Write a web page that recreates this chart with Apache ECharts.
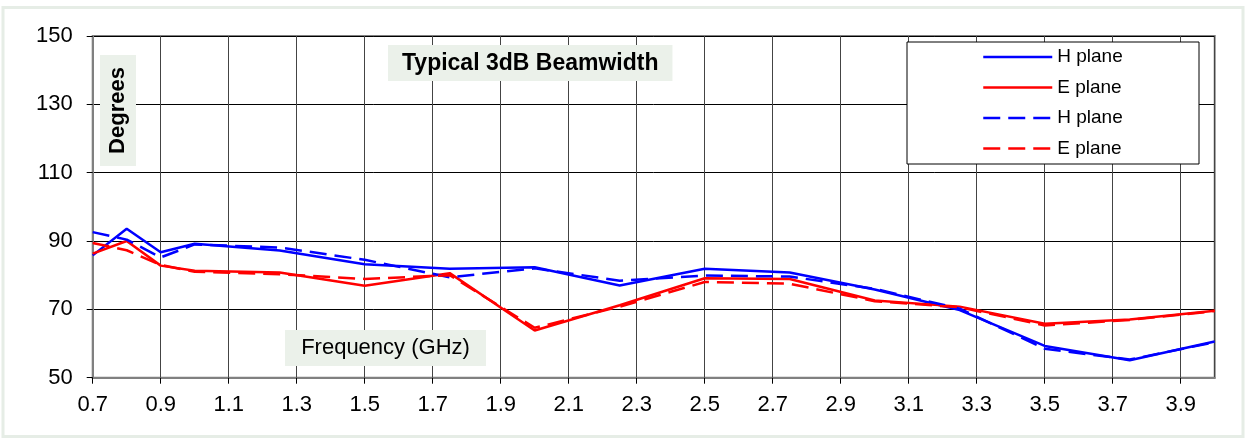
<!DOCTYPE html>
<html>
<head>
<meta charset="utf-8">
<title>Typical 3dB Beamwidth</title>
<script src="https://cdn.jsdelivr.net/npm/echarts@6/dist/echarts.min.js"></script>
<style>
  html, body { margin: 0; padding: 0; background: #fff; }
  #chart { width: 1248px; height: 441px; }
</style>
</head>
<body>
<div id="chart"></div>
<script>
// frequency points (GHz)
const freq = [0.7, 0.8, 0.9, 1.0, 1.25, 1.5, 1.75, 2.0, 2.25, 2.5, 2.75, 3.0, 3.25, 3.5, 3.75, 4.0];
// beamwidth in degrees
const hPlane = [85.8, 93.6, 86.7, 89.2, 87.2, 83.2, 81.9, 82.3, 77.0, 81.9, 80.8, 75.8, 69.8, 59.3, 55.1, 60.6];
const ePlane = [86.3, 90.0, 82.8, 81.3, 80.8, 76.9, 80.6, 63.8, 71.2, 79.1, 78.9, 72.6, 70.8, 65.8, 67.0, 69.6];
const hPlane2 = [92.6, 90.4, 85.2, 89.0, 88.1, 84.5, 79.4, 82.0, 78.4, 79.9, 79.6, 76.0, 70.2, 58.5, 55.3, 60.4];
const ePlane2 = [89.4, 87.3, 83.0, 81.0, 80.3, 78.9, 80.0, 64.6, 70.8, 78.0, 77.5, 72.4, 70.6, 65.3, 66.9, 69.5];

const font = 'Liberation Sans, Arial, sans-serif';

function pairs(ys) {
  return freq.map((x, i) => [x, ys[i]]);
}

function line(name, color, ys, dashed) {
  return {
    name: name,
    type: 'line',
    data: pairs(ys),
    symbol: 'none',
    color: color,
    lineStyle: { color: color, width: 2.5, type: dashed ? [17, 8] : 'solid' }
  };
}

const chart = echarts.init(document.getElementById('chart'));
chart.setOption({
  animation: false,
  title: {
    text: 'Typical 3dB Beamwidth',
    left: 388,
    top: 45,
    padding: [7, 14, 6, 14],
    backgroundColor: '#ebf1ea',
    textStyle: { fontFamily: font, fontSize: 23, fontWeight: 'bold', color: '#000' }
  },
  grid: {
    left: 92.7, top: 36, right: 33.3, bottom: 63.3,
    show: true, borderColor: '#808080', borderWidth: 2
  },
  legend: {
    orient: 'vertical',
    left: 982,
    top: 47,
    padding: 0,
    itemWidth: 69,
    itemHeight: 2,
    itemGap: 10.5,
    itemStyle: { opacity: 0 },
    lineStyle: { width: 2.5 },
    textStyle: { fontFamily: font, fontSize: 19, color: '#000', lineHeight: 20 },
    data: ['H plane', 'E plane', 'H plane ', 'E plane '],
    formatter: function (n) { return n.trim(); }
  },
  graphic: [
    { type: 'rect', shape: { x: 3, y: 7.5, width: 1240, height: 429 }, style: { fill: 'none', stroke: '#e6ede6', lineWidth: 3 }, z: 0 },
    { type: 'rect', shape: { x: 907, y: 42, width: 292, height: 122 }, style: { fill: '#fff', stroke: '#000', lineWidth: 1 }, z: 3 },
    { type: 'rect', shape: { x: 100, y: 55, width: 36, height: 111 }, style: { fill: '#ebf1ea' }, z: 3 },
    { type: 'text', x: 118, y: 110.5, rotation: Math.PI / 2, z: 4,
      style: { text: 'Degrees', font: 'bold 22px ' + font, fill: '#000', align: 'center', verticalAlign: 'middle' } },
    { type: 'rect', shape: { x: 285, y: 330, width: 201, height: 36 }, style: { fill: '#ebf1ea' }, z: 3 },
    { type: 'text', x: 385.5, y: 348, z: 4,
      style: { text: 'Frequency (GHz)', font: '22px ' + font, fill: '#000', align: 'center', verticalAlign: 'middle' } }
  ],
  xAxis: {
    type: 'value',
    min: 0.7,
    max: 4.0,
    interval: 0.2,
    axisLine: { show: true, lineStyle: { color: '#808080', width: 2 } },
    axisTick: { show: true, length: 6, lineStyle: { color: '#000', width: 1 } },
    axisLabel: {
      margin: 16, color: '#000', fontFamily: font, fontSize: 22, showMaxLabel: false,
      formatter: function (v) { return v > 3.95 ? '' : v.toFixed(1); }
    },
    splitLine: { show: true, lineStyle: { color: '#444', width: 1 } }
  },
  yAxis: {
    type: 'value',
    min: 50,
    max: 150,
    interval: 20,
    axisLine: { show: true, lineStyle: { color: '#808080', width: 2 } },
    axisTick: { show: true, length: 6, lineStyle: { color: '#000', width: 1 } },
    axisLabel: { margin: 20, color: '#000', fontFamily: font, fontSize: 22 },
    splitLine: { show: true, lineStyle: { color: '#000', width: 1 } }
  },
  series: [
    line('H plane', '#0000ff', hPlane, false),
    line('E plane', '#ff0000', ePlane, false),
    line('H plane ', '#0000ff', hPlane2, true),
    line('E plane ', '#ff0000', ePlane2, true)
  ]
});
</script>
</body>
</html>
